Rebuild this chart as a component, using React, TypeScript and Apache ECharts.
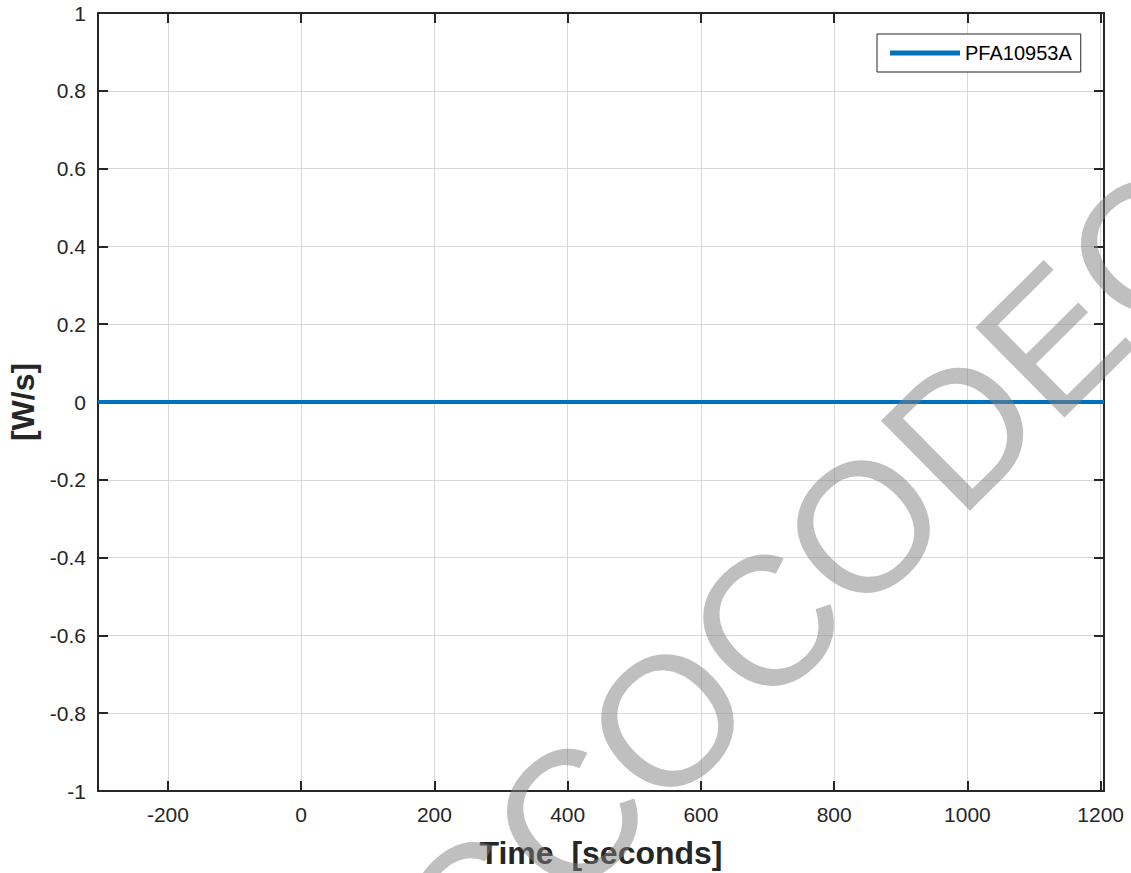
import React, { useEffect, useRef } from "react";
import * as echarts from "echarts";

// ---- data ----
const timeSeconds = [-305, -200, 0, 200, 400, 600, 800, 1000, 1205];
const pfaValues = [0, 0, 0, 0, 0, 0, 0, 0, 0];
const seriesName = "PFA10953A";
const xTickLabels = [-200, 0, 200, 400, 600, 800, 1000, 1200];
const yTickLabels = [-1, -0.8, -0.6, -0.4, -0.2, 0, 0.2, 0.4, 0.6, 0.8, 1];
const xTitle = "Time  [seconds]";
const yTitle = "[W/s]";
const watermarkText = "CCOCODEC";

export default function App() {
  const ref = useRef<HTMLDivElement>(null);
  useEffect(() => {
    if (!ref.current) return;
    const chart = echarts.init(ref.current, null, { renderer: "svg" });
    const font = "'Liberation Sans', Arial, Helvetica, sans-serif";
    const axisColor = "#262626";
    const gridColor = "#d8d8d8";
    const xMin = -305;
    const xMax = 1205;
    const yMin = yTickLabels[0];
    const yMax = yTickLabels[yTickLabels.length - 1];
    const axisLine = { show: true, onZero: false, lineStyle: { color: axisColor, width: 2 } };
    const xTick = { show: true, inside: true, length: 10, customValues: xTickLabels, lineStyle: { color: axisColor, width: 2 } };
    const yTick = { show: true, inside: true, length: 10, lineStyle: { color: axisColor, width: 2 } };

    chart.setOption({
      animation: false,
      backgroundColor: "#ffffff",
      grid: { left: 98, right: 27, top: 13, bottom: 82, containLabel: false, outerBoundsMode: "none" },
      legend: {
        data: [{ name: seriesName, icon: "rect" }],
        left: 877,
        top: 34,
        orient: "vertical",
        itemWidth: 70,
        itemHeight: 5,
        padding: [9, 9, 9, 13],
        borderColor: axisColor,
        borderWidth: 1,
        backgroundColor: "#ffffff",
        textStyle: { fontFamily: font, fontSize: 20, color: "#000000" },
      },
      xAxis: [
        {
          type: "value",
          position: "bottom",
          min: xMin,
          max: xMax,
          name: xTitle,
          nameLocation: "middle",
          nameGap: 46,
          nameTextStyle: { fontFamily: font, fontSize: 32, fontWeight: "bold", color: axisColor },
          axisLine,
          axisTick: xTick,
          axisLabel: {
            show: true,
            margin: 13,
            fontFamily: font,
            fontSize: 21,
            color: axisColor,
            customValues: xTickLabels,
            formatter: (v: number) => String(Math.round(v)),
          },
          splitLine: { show: true, lineStyle: { color: gridColor, width: 1 } },
        },
        {
          type: "value",
          position: "top",
          min: xMin,
          max: xMax,
          axisLine,
          axisTick: xTick,
          axisLabel: { show: false, customValues: xTickLabels },
          splitLine: { show: false },
        },
      ],
      yAxis: [
        {
          type: "value",
          position: "left",
          min: yMin,
          max: yMax,
          interval: 0.2,
          name: yTitle,
          nameLocation: "middle",
          nameGap: 56,
          nameTextStyle: { fontFamily: font, fontSize: 32, fontWeight: "bold", color: axisColor },
          axisLine,
          axisTick: yTick,
          axisLabel: {
            show: true,
            margin: 12,
            fontFamily: font,
            fontSize: 21,
            color: axisColor,
            formatter: (v: number) => {
              const r = Math.round(v * 10) / 10;
              return yTickLabels.indexOf(r) >= 0 ? String(r) : "";
            },
          },
          splitLine: { show: true, lineStyle: { color: gridColor, width: 1 } },
        },
        {
          type: "value",
          position: "right",
          min: yMin,
          max: yMax,
          interval: 0.2,
          axisLine,
          axisTick: yTick,
          axisLabel: { show: false },
          splitLine: { show: false },
        },
      ],
      series: [
        {
          type: "line",
          name: seriesName,
          xAxisIndex: 0,
          yAxisIndex: 0,
          data: timeSeconds.map((t, i) => [t, pfaValues[i]]),
          showSymbol: false,
          symbol: "none",
          clip: true,
          lineStyle: { color: "#0072BD", width: 4 },
          itemStyle: { color: "#0072BD" },
        },
      ],
      graphic: [
        {
          type: "text",
          x: 809,
          y: 580,
          rotation: 0.78,
          z: 100,
          silent: true,
          style: {
            text: watermarkText,
            fontSize: 184,
            fontFamily: font,
            fill: "rgba(128,128,128,0.5)",
            align: "center",
            verticalAlign: "middle",
            textAlign: "center",
            textVerticalAlign: "middle",
          },
        },
      ],
    });
    return () => chart.dispose();
  }, []);
  return <div ref={ref} style={{ position: "absolute", left: 0, top: 0, width: 1131, height: 873 }} />;
}
